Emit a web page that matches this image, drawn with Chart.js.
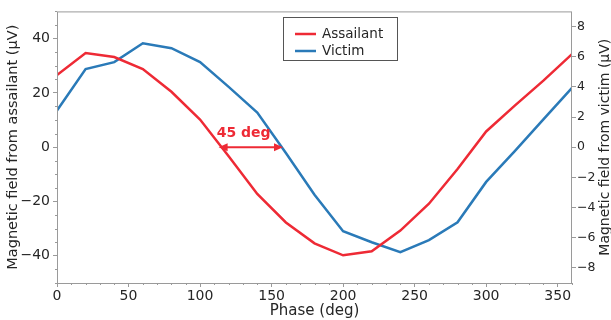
<!DOCTYPE html>
<html>
<head>
<meta charset="utf-8">
<script src="https://cdn.jsdelivr.net/npm/chart.js@4.4.0/dist/chart.umd.min.js"></script>
<style>
  html, body { margin: 0; padding: 0; background: #fff; }
  #wrap { width: 611px; height: 320px; }
</style>
</head>
<body>
<div id="wrap"><canvas id="myChart" width="611" height="320"></canvas></div>
<script>
// phase in degrees
const phase = [0, 20, 40, 60, 80, 100, 120, 140, 160, 180, 200, 220, 240, 260, 280, 300, 320, 340, 360];
// assailant field (uV), left axis
const assailant = [26.6, 34.7, 33.2, 28.8, 20.4, 10.2, -3.3, -17.2, -27.7, -35.4, -39.8, -38.3, -30.7, -20.8, -8.0, 5.8, 15.3, 24.5, 34.3];
// victim field (uV), right axis
const victim = [2.43, 5.18, 5.64, 6.89, 6.56, 5.64, 4.0, 2.3, -0.39, -3.15, -5.57, -6.3, -6.95, -6.16, -4.98, -2.3, -0.26, 1.84, 3.93];

const xTicks = [0, 50, 100, 150, 200, 250, 300, 350];
const leftTicks = [-40, -20, 0, 20, 40];
const rightTicks = [-8, -6, -4, -2, 0, 2, 4, 6, 8];

const seriesNames = ['Assailant', 'Victim'];
const red = '#ee2a35';
const blue = '#2a7ab8';
const arrowFrom = 113, arrowTo = 158;

const font = "'DejaVu Sans', sans-serif";
const textColor = '#262626';

const frame = {
    id: 'frame',
    afterDraw(chart) {
        const ctx = chart.ctx;
        const a = chart.chartArea;
        const x = chart.scales.x, yl = chart.scales.y;
        ctx.save();
        ctx.strokeStyle = '#9a9a9a';
        ctx.lineWidth = 1;
        ctx.strokeRect(a.left + 0.5, a.top + 0.5, a.right - a.left - 1, a.bottom - a.top);

        // minor ticks
        ctx.beginPath();
        for (let v = 0; v <= 360; v += 10) {
            if (v % 50 === 0) continue;
            const px = Math.round(x.getPixelForValue(v)) + 0.5;
            ctx.moveTo(px, a.bottom);
            ctx.lineTo(px, a.bottom + 2);
        }
        for (let v = -50; v <= 50; v += 5) {
            if (v % 20 === 0) continue;
            const py = Math.round(yl.getPixelForValue(v)) + 0.5;
            ctx.moveTo(a.left, py);
            ctx.lineTo(a.left - 2, py);
        }
        ctx.stroke();

        // right axis title, reading upwards like the left one
        ctx.save();
        ctx.translate(605, (a.top + a.bottom) / 2);
        ctx.rotate(-Math.PI / 2);
        ctx.font = '14px ' + font;
        ctx.fillStyle = textColor;
        ctx.textAlign = 'center';
        ctx.textBaseline = 'middle';
        ctx.fillText('Magnetic field from victim (\u03bcV)', 0, 0);
        ctx.restore();

        // 45 deg arrow
        const y0 = yl.getPixelForValue(0);
        const x1 = x.getPixelForValue(arrowFrom), x2 = x.getPixelForValue(arrowTo);
        ctx.strokeStyle = red;
        ctx.fillStyle = red;
        ctx.lineWidth = 2;
        ctx.beginPath();
        ctx.moveTo(x1 + 4, y0);
        ctx.lineTo(x2 - 4, y0);
        ctx.stroke();
        [[x1, 1], [x2, -1]].forEach(([px, d]) => {
            ctx.beginPath();
            ctx.moveTo(px, y0);
            ctx.lineTo(px + d * 9, y0 - 4);
            ctx.lineTo(px + d * 9, y0 + 4);
            ctx.closePath();
            ctx.fill();
        });
        ctx.font = 'bold 14px ' + font;
        ctx.textAlign = 'left';
        ctx.textBaseline = 'alphabetic';
        ctx.fillText('45 deg', x1 - 2, y0 - 10);

        // legend box
        ctx.fillStyle = '#fff';
        ctx.fillRect(283, 17, 114, 43);
        ctx.strokeStyle = '#555';
        ctx.lineWidth = 1;
        ctx.strokeRect(283.5, 17.5, 114, 43);
        const colors = [red, blue];
        ctx.font = '13.5px ' + font;
        ctx.textAlign = 'left';
        ctx.textBaseline = 'middle';
        seriesNames.forEach((n, i) => {
            const yy = 34 + i * 17;
            ctx.strokeStyle = colors[i];
            ctx.lineWidth = 2.5;
            ctx.beginPath();
            ctx.moveTo(295, yy);
            ctx.lineTo(316, yy);
            ctx.stroke();
            ctx.fillStyle = textColor;
            ctx.fillText(n, 322, yy);
        });
        ctx.restore();
    }
};

const ctx = document.getElementById('myChart').getContext('2d');

const chart = new Chart(ctx, {
    type: 'line',
    data: {
        datasets: [{
            label: seriesNames[0],
            data: phase.map((p, i) => ({ x: p, y: assailant[i] })),
            borderColor: red,
            borderWidth: 2.5,
            pointRadius: 0,
            yAxisID: 'y'
        }, {
            label: seriesNames[1],
            data: phase.map((p, i) => ({ x: p, y: victim[i] })),
            borderColor: blue,
            borderWidth: 2.5,
            pointRadius: 0,
            yAxisID: 'y2'
        }]
    },
    options: {
        responsive: false,
        animation: false,
        layout: { padding: { top: 9, left: 0, right: 0, bottom: 0 } },
        plugins: { legend: { display: false }, tooltip: { enabled: false } },
        scales: {
            x: {
                type: 'linear',
                min: 0, max: 360,
                afterBuildTicks: s => { s.ticks = xTicks.map(v => ({ value: v })); },
                afterFit: s => { s.height = 37; },
                grid: { drawOnChartArea: false, tickLength: 4, color: '#9a9a9a' },
                border: { display: false },
                ticks: { color: textColor, font: { family: font, size: 14 }, padding: 1, maxRotation: 0 },
                title: { display: true, text: 'Phase (deg)', color: textColor, font: { family: font, size: 15 }, padding: 0 }
            },
            y: {
                position: 'left',
                min: -50, max: 50,
                afterBuildTicks: s => { s.ticks = leftTicks.map(v => ({ value: v })); },
                afterFit: s => { s.width = 57; },
                grid: { drawOnChartArea: false, tickLength: 4, color: '#9a9a9a' },
                border: { display: false },
                ticks: { color: textColor, font: { family: font, size: 14 }, padding: 3,
                    callback: v => String(v).replace('-', '\u2212') },
                title: { display: true, text: 'Magnetic field from assailant (\u03bcV)', color: textColor, font: { family: font, size: 14.5 }, padding: 5 }
            },
            y2: {
                position: 'right',
                min: -9, max: 9,
                afterBuildTicks: s => { s.ticks = rightTicks.map(v => ({ value: v })); },
                afterFit: s => { s.width = 39; },
                grid: { drawOnChartArea: false, tickLength: 4, color: '#9a9a9a' },
                border: { display: false },
                ticks: { color: textColor, font: { family: font, size: 12.5 }, padding: 1,
                    callback: v => String(v).replace('-', '\u2212') },
                title: { display: false }
            }
        }
    },
    plugins: [frame]
});
</script>
</body>
</html>
